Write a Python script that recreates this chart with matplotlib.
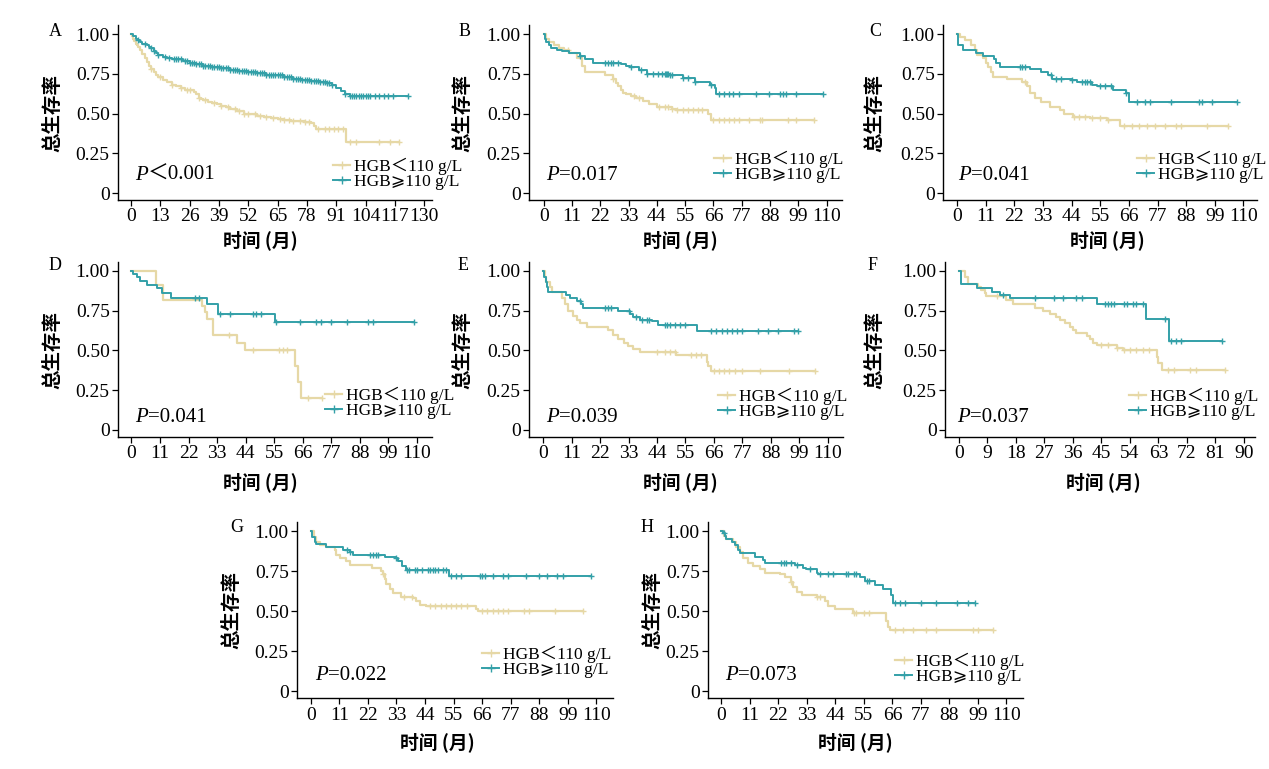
import numpy as np
import matplotlib
matplotlib.use('Agg')
import matplotlib.pyplot as plt
from matplotlib.lines import Line2D

plt.rcParams['font.family'] = ['Liberation Serif', 'Noto Sans CJK SC', 'DejaVu Sans']

# ---- data: step times / survival after step / censor times ----
A_low_t = [0, 0.5, 1, 1.5, 2, 2.5, 3, 4, 5, 6, 7, 8, 9, 10, 11, 12, 14, 16, 18, 20, 22, 24, 26, 28, 29, 30, 31, 32,
           34, 36, 38, 40, 42, 44, 47, 50, 53, 56, 59, 62, 65, 68, 71, 74, 77, 80, 81, 82, 95.3]
A_low_s = [1.0, 0.985, 0.97, 0.955, 0.94, 0.93, 0.92, 0.90, 0.875, 0.85, 0.825, 0.80, 0.78, 0.76, 0.745, 0.73, 0.71,
           0.695, 0.68, 0.67, 0.66, 0.65, 0.645, 0.635, 0.62, 0.60, 0.59, 0.585, 0.575, 0.565, 0.56, 0.55, 0.54, 0.53,
           0.515, 0.50, 0.495, 0.485, 0.48, 0.47, 0.465, 0.46, 0.455, 0.45, 0.445, 0.44, 0.42, 0.40, 0.32]
A_low_c = [9, 13, 18, 22, 25, 26, 30, 33, 37, 40, 43, 46, 48, 50, 52, 55, 57, 60, 63, 66, 68, 70, 72, 75, 77, 79,
           83, 86, 88, 90, 92, 94, 97, 100, 110, 115, 119]
A_high_t = [0, 1, 2, 3, 4, 5, 6, 7, 8, 9, 10, 11, 12, 14, 16, 18, 20, 23, 26, 29, 32, 36, 40, 44, 48, 52, 56, 60,
            64, 68, 72, 76, 80, 84, 87, 89, 91, 93, 95, 97]
A_high_s = [1.0, 0.985, 0.97, 0.96, 0.95, 0.94, 0.935, 0.93, 0.92, 0.91, 0.895, 0.88, 0.87, 0.855, 0.85, 0.845, 0.84,
            0.83, 0.82, 0.81, 0.80, 0.79, 0.785, 0.775, 0.77, 0.76, 0.755, 0.745, 0.74, 0.73, 0.72, 0.71, 0.705, 0.70,
            0.69, 0.68, 0.66, 0.64, 0.62, 0.61]
A_high_c = [3, 6, 9, 10, 12, 15, 17, 19, 20, 21, 22, 24, 25, 26, 27, 28, 29, 30, 31, 32, 33, 34, 35, 36, 37, 38, 39,
            40, 41, 42, 43, 44, 45, 46, 47, 48, 49, 50, 51, 52, 53, 54, 55, 56, 57, 58, 59, 60, 61, 62, 63, 64, 65,
            66, 67, 68, 69, 70, 71, 72, 73, 74, 75, 76, 77, 78, 79, 80, 81, 82, 83, 84, 85, 86, 87, 88, 89, 95, 97,
            98, 99, 100, 101, 102, 103, 104, 105, 106, 108, 110, 112, 114, 116, 123]

B_low_t = [0, 1, 2, 4, 6, 8, 10, 13, 15, 16, 24, 27, 28.3, 29, 30, 31, 32, 34, 36, 38.7, 41, 44, 50, 51.6, 64, 65]
B_low_s = [1.0, 0.97, 0.95, 0.93, 0.91, 0.90, 0.88, 0.85, 0.80, 0.76, 0.745, 0.72, 0.69, 0.67, 0.65, 0.63, 0.62,
           0.61, 0.60, 0.58, 0.56, 0.54, 0.53, 0.52, 0.50, 0.46]
B_low_c = [9.5, 27, 35, 37, 45, 47, 48.5, 50, 52, 54, 56, 58, 60, 61.5, 66, 68, 70, 72, 74, 76, 80, 84, 85, 95, 98,
           105]
B_high_t = [0, 0.5, 1, 2, 3, 5, 7, 10, 14, 16, 19, 30, 32, 33.5, 37, 40, 49, 54, 59, 64.5, 66.5, 67]
B_high_s = [1.0, 0.97, 0.95, 0.93, 0.91, 0.90, 0.89, 0.88, 0.86, 0.84, 0.82, 0.81, 0.80, 0.79, 0.775, 0.75, 0.74,
            0.725, 0.70, 0.68, 0.66, 0.62]
B_high_c = [14, 24, 25, 26, 27, 29, 34, 38, 40, 42.5, 44.5, 46, 47, 47.5, 48, 48.5, 49, 50, 54, 56, 59, 65, 68, 70,
            72, 73.6, 76, 82.7, 87.8, 91.7, 93, 94.3, 98, 108.5]

C_low_t = [0, 1, 3, 5.5, 6.8, 7.5, 10, 11.3, 12, 13.2, 13.8, 19, 25, 26.7, 28, 30, 32.4, 35.6, 39.5, 41, 44.6, 51,
           57.4, 62.6]
C_low_s = [1.0, 0.98, 0.96, 0.93, 0.90, 0.87, 0.85, 0.82, 0.79, 0.76, 0.73, 0.72, 0.70, 0.67, 0.63, 0.60, 0.57,
           0.54, 0.52, 0.50, 0.48, 0.47, 0.46, 0.42]
C_low_c = [26, 45, 47, 49, 52, 55, 58, 64, 67, 70, 73, 76, 80, 84, 86, 96, 104]
C_high_t = [0, 0.3, 2.3, 7.4, 10, 14, 15, 16.4, 28, 32.4, 35, 36.3, 44, 46, 52, 53.6, 60, 65, 66]
C_high_s = [1.0, 0.93, 0.90, 0.88, 0.86, 0.84, 0.82, 0.79, 0.78, 0.76, 0.74, 0.72, 0.71, 0.70, 0.68, 0.67, 0.65,
            0.63, 0.57]
C_high_c = [24, 25, 26, 36, 38, 40, 44, 48, 49, 50, 51, 55, 57, 59, 65, 69, 72, 74, 82, 93, 94, 98, 107.4]

D_low_t = [0, 9.4, 12.2, 27, 28.3, 29, 31.3, 40.5, 43.8, 63, 64, 65.3]
D_low_s = [1.0, 0.91, 0.82, 0.78, 0.74, 0.70, 0.60, 0.55, 0.50, 0.40, 0.30, 0.20]
D_low_c = [37.5, 47, 57, 58.5, 60, 68, 73.4]
D_high_t = [0, 0.6, 2, 3.2, 5.8, 9.7, 11.6, 15.4, 29, 33.5, 55.3]
D_high_s = [1.0, 0.98, 0.96, 0.94, 0.91, 0.89, 0.86, 0.83, 0.79, 0.73, 0.68]
D_high_c = [24.6, 26, 34, 38, 47, 48, 50, 55.5, 65, 71, 73, 77, 83, 91, 93, 108.8]

E_low_t = [0, 0.5, 1, 2.5, 3.5, 7, 8.3, 9.6, 11.5, 12.8, 14, 16.7, 25, 27, 29, 31, 32.8, 34.8, 37.3, 51.5, 63.2,
           63.8, 64.7]
E_low_s = [1.0, 0.96, 0.93, 0.90, 0.87, 0.83, 0.79, 0.75, 0.72, 0.69, 0.67, 0.65, 0.63, 0.60, 0.57, 0.55, 0.53,
           0.51, 0.49, 0.47, 0.43, 0.40, 0.37]
E_low_c = [44, 47, 49, 51, 57, 59, 61, 66, 68, 70, 72, 74, 77, 84, 95, 105]
E_high_t = [0, 0.3, 0.8, 1.3, 1.8, 8.9, 10.2, 12.8, 14.7, 15.4, 29, 33.5, 34.7, 37.3, 42, 44.4, 59.6]
E_high_s = [1.0, 0.96, 0.93, 0.90, 0.87, 0.85, 0.83, 0.81, 0.79, 0.77, 0.75, 0.73, 0.71, 0.69, 0.685, 0.66, 0.62]
E_high_c = [14, 24, 25, 26, 33, 36, 38, 40, 41, 47, 48, 49, 51, 53, 55, 65, 67, 69, 71, 73, 75, 77, 83, 87, 91, 97,
            98.7]

F_low_t = [0, 1.9, 3, 6.1, 7, 8.2, 8.7, 15, 17.2, 24, 26.6, 28.7, 30.8, 31.9, 33.5, 35, 36.1, 37, 40.3, 41.4, 42.4,
           43.5, 49.8, 51.9, 62.4, 63, 64]
F_low_s = [1.0, 0.96, 0.92, 0.90, 0.88, 0.86, 0.84, 0.82, 0.79, 0.77, 0.75, 0.73, 0.71, 0.69, 0.67, 0.65, 0.63,
           0.61, 0.59, 0.57, 0.55, 0.535, 0.515, 0.50, 0.46, 0.42, 0.38]
F_low_c = [12, 45, 47, 50, 52, 54, 56, 58, 60, 66, 68, 73, 75, 84]
F_high_t = [0, 0.5, 5.6, 10.3, 13, 16, 43.5, 59, 66.4]
F_high_s = [1.0, 0.92, 0.895, 0.87, 0.85, 0.83, 0.79, 0.70, 0.56]
F_high_c = [14, 24, 30, 33, 37, 39, 46, 47, 48, 49, 52, 53, 55, 56, 58, 65, 67, 68.5, 70, 83]

G_low_t = [0, 1.2, 2.2, 3.5, 6, 9.2, 9.9, 11.2, 13.7, 15, 23.4, 27.2, 27.9, 28.5, 29.1, 30.4, 31.7, 34.9, 39.4,
           40.7, 42, 44.5, 63.8, 64.4]
G_low_s = [1.0, 0.96, 0.93, 0.91, 0.90, 0.88, 0.85, 0.83, 0.81, 0.79, 0.77, 0.75, 0.73, 0.70, 0.67, 0.64, 0.61,
           0.59, 0.58, 0.56, 0.54, 0.53, 0.51, 0.50]
G_low_c = [28, 36, 39, 46, 48, 50, 52, 54, 56, 58, 60, 66, 68, 70, 72, 74, 76, 82, 84, 94, 105]
G_high_t = [0, 0.4, 1.5, 2.2, 6, 12.5, 15, 16.3, 28.5, 33, 33.6, 35, 36.8, 53.3]
G_high_s = [1.0, 0.96, 0.93, 0.92, 0.90, 0.88, 0.87, 0.85, 0.84, 0.83, 0.81, 0.78, 0.755, 0.72]
G_high_c = [14, 15, 23, 24, 25, 26, 33, 37, 38, 40, 41, 43, 45, 46, 47, 48, 49, 51, 52, 54, 56, 58, 65, 66, 67, 70,
            74, 76, 83, 88, 91, 95, 97, 108]

H_low_t = [0, 0.9, 1.9, 4.5, 5.8, 7.1, 8.4, 10.3, 12.2, 14.8, 16.7, 22.5, 24.5, 27, 27.7, 29, 30.9, 36.7, 39.9,
           41.2, 43.8, 50.8, 63.7, 64.3, 65]
H_low_s = [1.0, 0.97, 0.95, 0.93, 0.90, 0.87, 0.83, 0.80, 0.78, 0.76, 0.74, 0.73, 0.71, 0.68, 0.65, 0.62, 0.60,
           0.59, 0.56, 0.53, 0.51, 0.49, 0.44, 0.40, 0.38]
H_low_c = [27, 37, 38, 51, 52, 55, 57, 67, 70, 74, 79, 83, 97, 99, 104.9]
H_high_t = [0, 0.6, 1.3, 1.9, 3.9, 5.1, 6.4, 7.1, 12.9, 16.1, 16.7, 28.3, 31.5, 32.8, 36.7, 37.3, 53.4, 55.3, 59.2,
            62.4, 65.6, 66.3]
H_high_s = [1.0, 0.99, 0.97, 0.95, 0.93, 0.91, 0.88, 0.86, 0.84, 0.82, 0.80, 0.79, 0.77, 0.76, 0.74, 0.73, 0.71,
            0.69, 0.66, 0.64, 0.60, 0.55]
H_high_c = [1, 23, 24, 25, 27, 29, 34, 38, 41, 43, 48, 49, 51, 52, 56, 57, 67, 69, 71, 77, 83, 91, 95, 97.8]

panel_names = ['A', 'B', 'C', 'D', 'E', 'F', 'G', 'H']
p_texts = ['＜0.001', '=0.017', '=0.041', '=0.041', '=0.039', '=0.037', '=0.022', '=0.073']
x_max = [130, 110, 110, 110, 110, 90, 110, 110]
x_step = [13, 11, 11, 11, 11, 9, 11, 11]
legend_labels = ['HGB＜110 g/L', 'HGB⩾110 g/L']
y_ticks = [0, 0.25, 0.5, 0.75, 1.0]
y_ticklabels = ['0', '0.25', '0.50', '0.75', '1.00']

curves = {
    'A': (A_low_t, A_low_s, A_low_c, A_high_t, A_high_s, A_high_c),
    'B': (B_low_t, B_low_s, B_low_c, B_high_t, B_high_s, B_high_c),
    'C': (C_low_t, C_low_s, C_low_c, C_high_t, C_high_s, C_high_c),
    'D': (D_low_t, D_low_s, D_low_c, D_high_t, D_high_s, D_high_c),
    'E': (E_low_t, E_low_s, E_low_c, E_high_t, E_high_s, E_high_c),
    'F': (F_low_t, F_low_s, F_low_c, F_high_t, F_high_s, F_high_c),
    'G': (G_low_t, G_low_s, G_low_c, G_high_t, G_high_s, G_high_c),
    'H': (H_low_t, H_low_s, H_low_c, H_high_t, H_high_s, H_high_c),
}

# ---- layout (pixels in a 1269x769 canvas) ----
W, H = 1269, 769
# left spine, right end, y of 1.00, y of 0, xlim lower, xlim upper
layout = {
    'A': (118, 432, 34, 193, -5.8, 133.5),
    'B': (529, 842, 34, 193, -5.7, 116),
    'C': (943, 1257, 34, 193, -5.4, 115.2),
    'D': (118, 432, 271, 430, -5.2, 115.8),
    'E': (529, 843, 271, 430, -5.6, 116),
    'F': (945, 1255, 271, 430, -4.4, 93.5),
    'G': (297, 613, 531, 691, -5.3, 116.4),
    'H': (708, 1023, 531, 691, -5.2, 116.4),
}
letter_pos = {'A': (55, 32), 'B': (465, 32), 'C': (875, 32), 'D': (55, 265),
              'E': (463, 265), 'F': (873, 265), 'G': (237, 528), 'H': (647, 528)}
ylab_off = {'A': 65, 'B': 66, 'C': 68, 'D': 65, 'E': 66, 'F': 70, 'G': 65, 'H': 55}
xlab_pos = {'A': (260, 240), 'B': (680, 240), 'C': (1107, 240), 'D': (260, 482),
            'E': (680, 482), 'F': (1103, 482), 'G': (437, 742), 'H': (855, 742)}
leg_pos = {'A': (462, 190), 'B': (843, 183), 'C': (1266, 183), 'D': (454, 419),
           'E': (847, 420), 'F': (1258, 420), 'G': (611, 678), 'H': (1024, 685)}
p_pos = {'A': (135, 175), 'B': (546, 175), 'C': (958, 175), 'D': (135, 418),
         'E': (546, 417), 'F': (957, 417), 'G': (315, 675), 'H': (725, 675)}

TAN = '#E6D8A6'
TEAL = '#33A0A8'
YLO, YHI = -0.045, 1.055

fig = plt.figure(figsize=(W / 100, H / 100), dpi=100)


def draw_curve(ax, t, s, cens, color, lw):
    t = np.asarray(t, float)
    s = np.asarray(s, float)
    end = max(max(cens), t[-1])
    ax.step(np.append(t, end), np.append(s, s[-1]), where='post', color=color, lw=lw)
    cens = np.asarray(cens, float)
    idx = np.searchsorted(t, cens, side='right') - 1
    ax.plot(cens, s[idx], ls='none', marker='+', ms=5, mew=1.0, color=color)


for i, name in enumerate(panel_names):
    left, right, y1, y0, xlo, xhi = layout[name]
    span = y0 - y1
    top = y1 - (YHI - 1) * span
    bottom = y0 - YLO * span
    ax = fig.add_axes([left / W, 1 - bottom / H, (right - left) / W, (bottom - top) / H])
    lt, ls_, lc, ht, hs, hc = curves[name]
    draw_curve(ax, lt, ls_, lc, TAN, 1.6)
    draw_curve(ax, ht, hs, hc, TEAL, 1.4)

    ax.set_xlim(xlo, xhi)
    ax.set_ylim(YLO, YHI)
    ax.set_xticks(np.arange(0, x_max[i] + 1, x_step[i]))
    ax.set_yticks(y_ticks)
    ax.set_yticklabels(y_ticklabels)
    for sp in ['top', 'right']:
        ax.spines[sp].set_visible(False)
    for sp in ['left', 'bottom']:
        ax.spines[sp].set_linewidth(1.0)
    ax.tick_params(direction='out', length=4, width=0.9, labelsize=14, pad=2)

    # P value: italic P followed by the value
    px, py = p_pos[name]
    pt = fig.text(px / W, 1 - py / H, 'P', fontsize=15, style='italic', ha='left', va='center',
                  family='Liberation Serif')
    ax.annotate(p_texts[i], xy=(1, 0.5), xycoords=pt, ha='left', va='center', fontsize=15,
                annotation_clip=False)

    handles = [Line2D([], [], color=TAN, marker='+', ms=6, lw=1.6),
               Line2D([], [], color=TEAL, marker='+', ms=6, lw=1.4)]
    lx, ly = leg_pos[name]
    bx = (lx - left) / (right - left)
    by = (bottom - ly) / (bottom - top)
    ax.legend(handles, legend_labels, loc='lower right', bbox_to_anchor=(bx, by), frameon=False,
              fontsize=12.5, handlelength=1.0, handletextpad=0.2, labelspacing=-0.05, borderpad=0,
              borderaxespad=0)

    fig.text((left - ylab_off[name]) / W, 1 - (top + bottom) / 2 / H, '总生存率', rotation=90,
             ha='center', va='center', fontsize=14, fontweight='bold', family='Noto Sans CJK SC')
    xx, xy = xlab_pos[name]
    fig.text(xx / W, 1 - xy / H, '时间 (月)', ha='center', va='center', fontsize=13.5,
             fontweight='bold', family='Noto Sans CJK SC')
    lxp, lyp = letter_pos[name]
    fig.text(lxp / W, 1 - lyp / H, name, ha='center', va='center', fontsize=13)

fig.savefig('out.png', dpi=100)
